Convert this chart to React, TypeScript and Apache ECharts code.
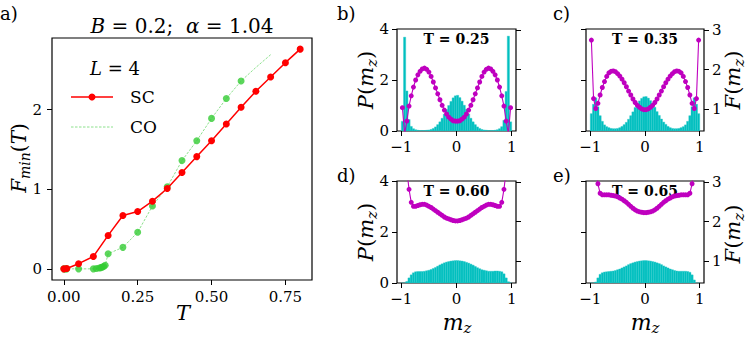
import React, { useEffect, useRef } from "react";
import * as echarts from "echarts";

// ---------- panel a data ----------
const T_SC = [0.0, 0.01, 0.05, 0.1, 0.15, 0.2, 0.25, 0.3, 0.35, 0.4, 0.45, 0.5, 0.55, 0.6, 0.65, 0.7, 0.75, 0.8];
const F_SC = [0.0, 0.005, 0.065, 0.155, 0.42, 0.67, 0.72, 0.85, 1.01, 1.21, 1.41, 1.61, 1.82, 2.03, 2.23, 2.41, 2.59, 2.76];

const T_CO = [0.0, 0.005, 0.01, 0.05, 0.1, 0.11, 0.12, 0.125, 0.13, 0.135, 0.14, 0.15, 0.2, 0.25, 0.3, 0.35, 0.4, 0.45, 0.5, 0.55, 0.6, 0.65, 0.7];
const F_CO = [0.0, 0.0, 0.0, 0.0, 0.0, 0.004, 0.01, 0.015, 0.022, 0.03, 0.045, 0.19, 0.27, 0.46, 0.79, 1.03, 1.36, 1.61, 1.89, 2.14, 2.36, 2.53, 2.69];
const CO_LAST_MARKED_T = 0.6;

const T_TICKS = [0, 0.25, 0.5, 0.75];
const FMIN_TICKS = [0, 1, 2];

// ---------- panels b-e data ----------
const MZ = [
  -0.98, -0.94, -0.9, -0.86, -0.82, -0.78, -0.74, -0.7, -0.66, -0.62, -0.58, -0.54, -0.5, -0.46, -0.42, -0.38, -0.34, -0.3, -0.26, -0.22, -0.18, -0.14, -0.1, -0.06, -0.02,
  0.02, 0.06, 0.1, 0.14, 0.18, 0.22, 0.26, 0.3, 0.34, 0.38, 0.42, 0.46, 0.5, 0.54, 0.58, 0.62, 0.66, 0.7, 0.74, 0.78, 0.82, 0.86, 0.9, 0.94, 0.98,
];
const BIN_WIDTH = 0.04;

const P_025 = [
  0.38, 3.68, 1.57, 0.45, 0.18, 0.09, 0.05, 0.03, 0.02, 0.02, 0.02, 0.03, 0.04, 0.06, 0.1, 0.16, 0.25, 0.36, 0.5, 0.66, 0.84, 1.0, 1.16, 1.3, 1.38,
  1.4, 1.31, 1.17, 1.01, 0.85, 0.67, 0.5, 0.36, 0.25, 0.16, 0.1, 0.06, 0.04, 0.03, 0.02, 0.02, 0.02, 0.03, 0.05, 0.09, 0.17, 0.42, 1.55, 3.72, 0.36,
];
const F_025 = [
  1.04, 0.38, 0.7, 1.08, 1.34, 1.56, 1.74, 1.87, 1.96, 2.02, 2.04, 2.01, 1.94, 1.83, 1.69, 1.54, 1.39, 1.24, 1.1, 0.98, 0.88, 0.8, 0.75, 0.71, 0.7,
  0.7, 0.71, 0.75, 0.8, 0.88, 0.98, 1.1, 1.24, 1.39, 1.54, 1.69, 1.83, 1.94, 2.01, 2.04, 2.02, 1.96, 1.87, 1.74, 1.56, 1.34, 1.08, 0.7, 0.38, 1.04,
];
const P_035 = [
  0.68, 1.05, 1.3, 0.95, 0.6, 0.38, 0.24, 0.17, 0.13, 0.1, 0.09, 0.09, 0.1, 0.13, 0.18, 0.25, 0.34, 0.46, 0.6, 0.75, 0.92, 1.06, 1.18, 1.28, 1.34,
  1.35, 1.29, 1.19, 1.07, 0.93, 0.76, 0.61, 0.47, 0.35, 0.26, 0.18, 0.13, 0.1, 0.09, 0.09, 0.1, 0.13, 0.17, 0.24, 0.38, 0.6, 0.95, 1.3, 1.05, 0.68,
];
const F_035 = [
  2.75, 1.27, 1.02, 1.15, 1.36, 1.55, 1.7, 1.83, 1.92, 1.96, 1.97, 1.95, 1.9, 1.84, 1.76, 1.67, 1.57, 1.46, 1.36, 1.26, 1.17, 1.1, 1.05, 1.01, 0.99,
  0.99, 1.01, 1.05, 1.1, 1.17, 1.26, 1.36, 1.46, 1.57, 1.67, 1.76, 1.84, 1.9, 1.95, 1.97, 1.96, 1.92, 1.83, 1.7, 1.55, 1.36, 1.15, 1.02, 1.27, 2.75,
];
const P_060 = [
  0.0, 0.0, 0.06, 0.2, 0.32, 0.4, 0.44, 0.45, 0.45, 0.45, 0.46, 0.48, 0.5, 0.53, 0.57, 0.61, 0.66, 0.71, 0.75, 0.79, 0.82, 0.84, 0.86, 0.87, 0.88,
  0.88, 0.87, 0.86, 0.84, 0.81, 0.78, 0.74, 0.7, 0.65, 0.6, 0.56, 0.52, 0.5, 0.48, 0.46, 0.46, 0.46, 0.47, 0.47, 0.46, 0.44, 0.36, 0.2, 0.05, 0.0,
];
const F_060 = [
  4.2, 3.5, 3.3, 2.82, 2.49, 2.39, 2.39, 2.41, 2.43, 2.44, 2.44, 2.42, 2.39, 2.36, 2.32, 2.28, 2.24, 2.2, 2.16, 2.12, 2.09, 2.07, 2.05, 2.03, 2.02,
  2.02, 2.03, 2.05, 2.07, 2.09, 2.12, 2.16, 2.2, 2.24, 2.28, 2.32, 2.36, 2.39, 2.42, 2.44, 2.44, 2.43, 2.41, 2.39, 2.39, 2.49, 2.82, 3.3, 3.5, 4.2,
];
const P_065 = [
  0.0, 0.0, 0.04, 0.2, 0.34, 0.4, 0.43, 0.44, 0.45, 0.46, 0.47, 0.49, 0.52, 0.55, 0.59, 0.63, 0.67, 0.72, 0.76, 0.79, 0.82, 0.84, 0.86, 0.87, 0.88,
  0.88, 0.87, 0.86, 0.84, 0.82, 0.79, 0.76, 0.72, 0.67, 0.63, 0.59, 0.55, 0.52, 0.49, 0.47, 0.46, 0.46, 0.46, 0.46, 0.45, 0.42, 0.32, 0.12, 0.0, 0.0,
];
const F_065 = [
  4.5, 3.8, 3.4, 2.96, 2.72, 2.68, 2.68, 2.68, 2.68, 2.67, 2.66, 2.65, 2.63, 2.6, 2.57, 2.53, 2.49, 2.44, 2.39, 2.34, 2.3, 2.27, 2.25, 2.24, 2.23,
  2.23, 2.24, 2.25, 2.27, 2.3, 2.34, 2.39, 2.44, 2.49, 2.53, 2.57, 2.6, 2.63, 2.65, 2.66, 2.67, 2.68, 2.68, 2.68, 2.68, 2.72, 2.96, 3.4, 3.8, 4.5,
];
const PANEL_T = ["0.25", "0.35", "0.60", "0.65"];
const PANEL_LETTERS = ["a)", "b)", "c)", "d)", "e)"];
const MZ_TICKS = [-1, 0, 1];
const P_TICKS = [0, 2, 4];
const F_TICKS = [1, 2, 3];

// ---------- styling / layout ----------
const FONT = "DejaVu Serif";
const CYAN = "#00bfbf";
const MAGENTA = "#bf00bf";
const RED = "#ff0000";
const GREEN = "#33cc33";

const GRIDS = [
  { left: 52, top: 38, width: 260, height: 242 },
  { left: 397, top: 29, width: 119, height: 102 },
  { left: 586, top: 29, width: 118, height: 102 },
  { left: 397, top: 181, width: 119, height: 102 },
  { left: 586, top: 181, width: 118, height: 102 },
];

const minusFmt = (v: number) => (v < 0 ? "\u2212" + Math.abs(v) : String(v));

function tick(vals: number[]) {
  return { show: true, length: 5, customValues: vals, lineStyle: { color: "#000", width: 1 } };
}
function label(vals: number[], show: boolean, fmt: (v: number) => string, margin = 8) {
  return { show, customValues: vals, color: "#000", fontFamily: FONT, fontSize: 15, margin, formatter: fmt };
}

function mathRich(size: number, color: string) {
  return {
    i: { fontFamily: FONT, fontStyle: "italic", fontSize: size, color },
    r: { fontFamily: FONT, fontSize: size, color },
    s: { fontFamily: FONT, fontStyle: "italic", fontSize: Math.round(size * 0.7), color, padding: [Math.round(size * 0.55), 0, 0, 0] },
  };
}

function buildOption() {
  const xAxis: any[] = [
    {
      gridIndex: 0, type: "value", min: -0.04, max: 0.84,
      axisLine: { show: false, onZero: false }, splitLine: { show: false },
      axisTick: tick(T_TICKS), axisLabel: label(T_TICKS, true, (v: number) => v.toFixed(2), 9),
    },
  ];
  const yAxis: any[] = [
    {
      gridIndex: 0, type: "value", min: -0.14, max: 2.9,
      axisLine: { show: false, onZero: false }, splitLine: { show: false },
      axisTick: tick(FMIN_TICKS), axisLabel: label(FMIN_TICKS, true, (v: number) => String(v), 10),
    },
  ];
  for (let g = 1; g <= 4; g++) {
    xAxis.push({
      gridIndex: g, type: "value", min: -1.078, max: 1.078,
      axisLine: { show: false, onZero: false }, splitLine: { show: false },
      axisTick: tick(MZ_TICKS), axisLabel: label(MZ_TICKS, true, minusFmt, 8),
    });
    yAxis.push({
      gridIndex: g, type: "value", min: 0, max: 4, position: "left",
      axisLine: { show: false, onZero: false }, splitLine: { show: false },
      axisTick: tick(P_TICKS), axisLabel: label(P_TICKS, g === 1 || g === 3, (v: number) => String(v)),
    });
  }
  for (let g = 1; g <= 4; g++) {
    yAxis.push({
      gridIndex: g, type: "value", min: 0.45, max: 3.03, position: "right",
      axisLine: { show: false, onZero: false }, splitLine: { show: false },
      axisTick: tick(F_TICKS), axisLabel: label(F_TICKS, g === 2 || g === 4, (v: number) => String(v)),
    });
  }

  const series: any[] = [
    {
      type: "line", name: "CO", xAxisIndex: 0, yAxisIndex: 0,
      data: T_CO.map((t, i) => [t, F_CO[i]]),
      symbol: "none", lineStyle: { color: "#7fdc7f", width: 0.9, type: [2.5, 1.5] }, z: 2,
    },
    {
      type: "scatter", name: "CO points", xAxisIndex: 0, yAxisIndex: 0,
      data: T_CO.map((t, i) => [t, F_CO[i]]).filter((p) => p[0] <= CO_LAST_MARKED_T),
      symbol: "circle", symbolSize: 7, itemStyle: { color: GREEN }, z: 3,
    },
    {
      type: "line", name: "SC", xAxisIndex: 0, yAxisIndex: 0,
      data: T_SC.map((t, i) => [t, F_SC[i]]),
      symbol: "circle", symbolSize: 7, itemStyle: { color: RED }, lineStyle: { color: RED, width: 1.5 }, z: 4,
    },
  ];

  const P_SETS = [P_025, P_035, P_060, P_065];
  const F_SETS = [F_025, F_035, F_060, F_065];
  for (let g = 1; g <= 4; g++) {
    const P = P_SETS[g - 1];
    const F = F_SETS[g - 1];
    series.push({
      type: "custom", name: "P" + g, xAxisIndex: g, yAxisIndex: g, clip: true, z: 2,
      data: MZ.map((m, k) => [m, P[k]]),
      encode: { x: 0, y: 1 },
      renderItem: (_params: any, api: any) => {
        const x = api.value(0);
        const y = api.value(1);
        const p0 = api.coord([x - BIN_WIDTH / 2, y]);
        const p1 = api.coord([x + BIN_WIDTH / 2, 0]);
        return {
          type: "rect",
          shape: { x: p0[0], y: p0[1], width: p1[0] - p0[0], height: p1[1] - p0[1] },
          style: { fill: CYAN, stroke: "#2ec9c9", lineWidth: 0.4 },
        };
      },
    });
    series.push({
      type: "line", name: "F" + g, xAxisIndex: g, yAxisIndex: 4 + g, clip: true, z: 3,
      data: MZ.map((m, k) => [m, F[k]]),
      symbol: "circle", symbolSize: 5, itemStyle: { color: MAGENTA }, lineStyle: { color: MAGENTA, width: 1.1 },
    });
  }

  const graphic: any[] = [];
  const txt = (x: number, y: number, text: string, rich: any, extra: any = {}) => ({
    type: "text", x, y, ...extra,
    style: { text, rich, align: "center", verticalAlign: "middle", fill: "#000", fontFamily: FONT },
  });

  // panel letters
  const letterPos = [[0, 13], [337, 13], [553, 13], [337, 175], [553, 175]];
  PANEL_LETTERS.forEach((l, i) => {
    graphic.push({
      type: "text", x: letterPos[i][0], y: letterPos[i][1],
      style: { text: l, fontFamily: FONT, fontSize: 18, fill: "#000", align: "left", verticalAlign: "middle" },
    });
  });

  // title
  graphic.push(txt(182, 26, "{i|B}{r| = 0.2;  }{i|α}{r| = 1.04}", mathRich(20, "#000")));
  // a axis names
  graphic.push(txt(19, 158, "{i|F}{s|min}{r|(}{i|T}{r|)}", mathRich(20, "#000"), { rotation: Math.PI / 2 }));
  graphic.push(txt(183, 313, "{i|T}", mathRich(21, "#000")));

  // legend
  graphic.push(txt(115, 68, "{i|L}{r| = 4}", mathRich(18, "#222")));
  graphic.push({ type: "line", shape: { x1: 71, y1: 97, x2: 113, y2: 97 }, style: { stroke: RED, lineWidth: 1.5 } });
  graphic.push({ type: "circle", shape: { cx: 92, cy: 97, r: 3.5 }, style: { fill: RED } });
  graphic.push({
    type: "text", x: 130, y: 97,
    style: { text: "SC", fontFamily: FONT, fontSize: 17, fill: "#000", align: "left", verticalAlign: "middle" },
  });
  graphic.push({
    type: "line", shape: { x1: 71, y1: 127, x2: 113, y2: 127 },
    style: { stroke: "#7fdc7f", lineWidth: 0.9, lineDash: [2.5, 1.5] },
  });
  graphic.push({
    type: "text", x: 130, y: 127,
    style: { text: "CO", fontFamily: FONT, fontSize: 17, fill: "#000", align: "left", verticalAlign: "middle" },
  });

  // panel T labels
  PANEL_T.forEach((t, i) => {
    const gr = GRIDS[i + 1];
    graphic.push({
      type: "text", x: gr.left + gr.width / 2, y: gr.top + 10,
      style: { text: "T = " + t, fontFamily: FONT, fontSize: 14, fontWeight: "bold", fill: "#000", align: "center", verticalAlign: "middle" },
    });
  });

  // P / F / m_z labels
  graphic.push(txt(366, 80, "{i|P}{r|(}{i|m}{s|z}{r|)}", mathRich(21, CYAN), { rotation: Math.PI / 2 }));
  graphic.push(txt(366, 232, "{i|P}{r|(}{i|m}{s|z}{r|)}", mathRich(21, CYAN), { rotation: Math.PI / 2 }));
  graphic.push(txt(733, 80, "{i|F}{r|(}{i|m}{s|z}{r|)}", mathRich(21, MAGENTA), { rotation: Math.PI / 2 }));
  graphic.push(txt(733, 234, "{i|F}{r|(}{i|m}{s|z}{r|)}", mathRich(21, MAGENTA), { rotation: Math.PI / 2 }));
  graphic.push(txt(457, 322, "{i|m}{s|z}", mathRich(22, "#000")));
  graphic.push(txt(645, 322, "{i|m}{s|z}", mathRich(22, "#000")));

  return {
    animation: false,
    backgroundColor: "#fff",
    grid: GRIDS.map((g) => ({ ...g, show: true, borderColor: "#000", borderWidth: 1.2, backgroundColor: "transparent", containLabel: false })),
    xAxis,
    yAxis,
    series,
    graphic,
  };
}

export default function App() {
  const ref = useRef<HTMLDivElement>(null);
  useEffect(() => {
    if (!ref.current) return;
    const chart = echarts.init(ref.current, null, { renderer: "svg" });
    chart.setOption(buildOption() as any);
    return () => chart.dispose();
  }, []);
  return (
    <div
      ref={ref}
      style={{ position: "absolute", left: 0, top: 0, width: 748, height: 337, background: "#fff" }}
    />
  );
}
